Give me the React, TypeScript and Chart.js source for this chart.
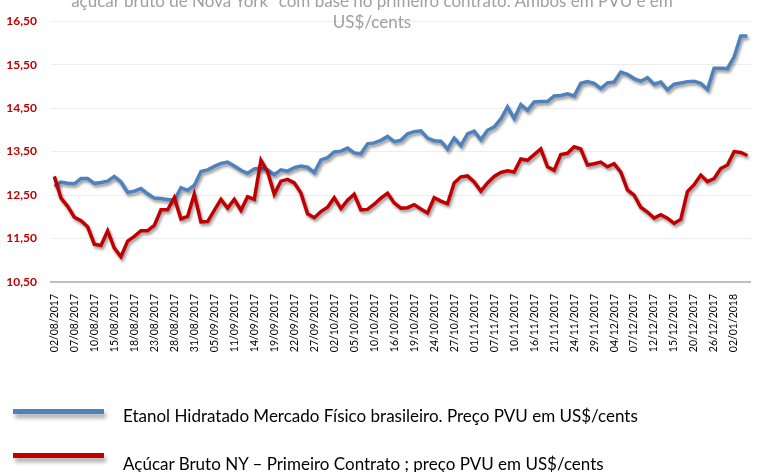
import React, { useEffect, useRef } from "react";
import { Chart, registerables } from "chart.js";

Chart.register(...registerables);

const dates: string[] = [
  "02/08/2017","03/08/2017","04/08/2017","07/08/2017","08/08/2017","09/08/2017","10/08/2017","11/08/2017","14/08/2017","15/08/2017",
  "16/08/2017","17/08/2017","18/08/2017","21/08/2017","22/08/2017","23/08/2017","24/08/2017","25/08/2017","28/08/2017","29/08/2017",
  "30/08/2017","31/08/2017",
  "01/09/2017","04/09/2017","05/09/2017","06/09/2017","08/09/2017","11/09/2017","12/09/2017","13/09/2017","14/09/2017","15/09/2017",
  "18/09/2017","19/09/2017","20/09/2017","21/09/2017","22/09/2017","25/09/2017","26/09/2017","27/09/2017","28/09/2017","29/09/2017",
  "02/10/2017","03/10/2017","04/10/2017","05/10/2017","06/10/2017","09/10/2017","10/10/2017","11/10/2017","13/10/2017","16/10/2017",
  "17/10/2017","18/10/2017","19/10/2017","20/10/2017","23/10/2017","24/10/2017","25/10/2017","26/10/2017","27/10/2017","30/10/2017",
  "31/10/2017",
  "01/11/2017","03/11/2017","06/11/2017","07/11/2017","08/11/2017","09/11/2017","10/11/2017","13/11/2017","14/11/2017","16/11/2017",
  "17/11/2017","20/11/2017","21/11/2017","22/11/2017","23/11/2017","24/11/2017","27/11/2017","28/11/2017","29/11/2017","30/11/2017",
  "01/12/2017","04/12/2017","05/12/2017","06/12/2017","07/12/2017","08/12/2017","11/12/2017","12/12/2017","13/12/2017","14/12/2017",
  "15/12/2017","18/12/2017","19/12/2017","20/12/2017","21/12/2017","22/12/2017","26/12/2017","27/12/2017","28/12/2017",
  "02/01/2018","03/01/2018","04/01/2018",
];

const etanol: number[] = [
  12.70, 12.80, 12.77, 12.76, 12.88, 12.88, 12.77, 12.79, 12.82, 12.93,
  12.80, 12.56, 12.59, 12.65, 12.53, 12.43, 12.42, 12.40, 12.38, 12.67,
  12.61, 12.72, 13.04, 13.08, 13.16, 13.23, 13.26, 13.17, 13.07, 13.00,
  13.10, 13.12, 13.08, 12.97, 13.08, 13.05, 13.13, 13.17, 13.14, 13.02,
  13.31, 13.36, 13.49, 13.51, 13.58, 13.47, 13.45, 13.68, 13.70, 13.76,
  13.85, 13.73, 13.76, 13.91, 13.96, 13.98, 13.81, 13.75, 13.74, 13.56,
  13.81, 13.64, 13.91, 13.97, 13.77, 13.99, 14.07, 14.25, 14.53, 14.26,
  14.58, 14.45, 14.64, 14.65, 14.65, 14.78, 14.79, 14.83, 14.78, 15.07,
  15.11, 15.07, 14.95, 15.08, 15.10, 15.33, 15.28, 15.18, 15.12, 15.20,
  15.05, 15.10, 14.92, 15.05, 15.08, 15.11, 15.12, 15.07, 14.93, 15.42,
  15.42, 15.41, 15.68, 16.16, 16.16,
];

const acucar: number[] = [
  12.93, 12.43, 12.24, 11.99, 11.91, 11.77, 11.37, 11.34, 11.68, 11.28,
  11.08, 11.44, 11.55, 11.68, 11.68, 11.80, 12.16, 12.16, 12.44, 11.95,
  12.01, 12.52, 11.88, 11.89, 12.15, 12.40, 12.20, 12.40, 12.15, 12.46,
  12.40, 13.30, 13.04, 12.52, 12.82, 12.86, 12.78, 12.55, 12.07, 11.98,
  12.12, 12.22, 12.44, 12.19, 12.38, 12.52, 12.16, 12.17, 12.29, 12.43,
  12.54, 12.32, 12.20, 12.21, 12.28, 12.18, 12.09, 12.44, 12.36, 12.30,
  12.78, 12.92, 12.94, 12.80, 12.59, 12.78, 12.93, 13.02, 13.06, 13.03,
  13.33, 13.30, 13.43, 13.56, 13.15, 13.07, 13.43, 13.46, 13.61, 13.56,
  13.19, 13.22, 13.26, 13.15, 13.22, 13.03, 12.62, 12.50, 12.22, 12.11,
  11.97, 12.05, 11.97, 11.85, 11.94, 12.58, 12.74, 12.96, 12.81, 12.88,
  13.11, 13.19, 13.50, 13.48, 13.41,
];

const yMin = 10.5;
const yMax = 16.5;
const yStep = 1;
const labelEvery = 3;

const titleLines = [
  "açúcar bruto de Nova York\" com base no primeiro contrato. Ambos em PVU e em",
  "US$/cents",
];
const legendLabels = [
  "Etanol Hidratado Mercado Físico brasileiro. Preço PVU em US$/cents",
  "Açúcar Bruto NY – Primeiro Contrato ; preço PVU em US$/cents",
];

const BLUE = "#4F81BD";
const RED = "#C00000";
const FONT = "Lato, 'Open Sans', sans-serif";

const shadowPlugin = {
  id: "lineShadow",
  beforeDatasetsDraw(chart: any) {
    const ctx = chart.ctx;
    ctx.save();
    ctx.shadowColor = "rgba(0,0,0,0.4)";
    ctx.shadowBlur = 3;
    ctx.shadowOffsetX = 1.5;
    ctx.shadowOffsetY = 2.5;
  },
  afterDatasetsDraw(chart: any) {
    chart.ctx.restore();
  },
};

export default function App() {
  const canvasRef = useRef<HTMLCanvasElement | null>(null);

  useEffect(() => {
    if (!canvasRef.current) return;
    const chart = new Chart(canvasRef.current, {
      type: "line",
      data: {
        labels: dates,
        datasets: [
          {
            label: legendLabels[0],
            data: etanol,
            borderColor: BLUE,
            backgroundColor: BLUE,
            borderWidth: 3.5,
            pointRadius: 0,
            tension: 0,
            order: 2,
          },
          {
            label: legendLabels[1],
            data: acucar,
            borderColor: RED,
            backgroundColor: RED,
            borderWidth: 3.5,
            pointRadius: 0,
            tension: 0,
            order: 1,
          },
        ],
      },
      options: {
        responsive: false,
        animation: false,
        layout: { padding: { top: 13, right: 1, bottom: 110, left: 0 } },
        plugins: {
          legend: { display: false },
          title: { display: false },
          tooltip: { enabled: false },
        },
        scales: {
          x: {
            type: "category",
            offset: true,
            grid: { display: false, drawTicks: false },
            border: { display: true, color: "#BFBFBF", width: 2 },
            ticks: {
              autoSkip: false,
              minRotation: 90,
              maxRotation: 90,
              padding: 12,
              color: "#000000",
              font: { family: FONT, size: 10.5 },
              callback: (_v: any, i: number) => (i % labelEvery === 0 ? dates[i] : ""),
            },
            afterFit: (scale: any) => {
              scale.height = 80;
            },
          },
          y: {
            min: yMin,
            max: yMax,
            grid: { color: "#EDEDED", lineWidth: 1, drawTicks: false },
            border: { display: false },
            ticks: {
              stepSize: yStep,
              padding: 14,
              color: RED,
              font: { family: FONT, size: 12, weight: "bold" },
              callback: (v: any) => Number(v).toFixed(2).replace(".", ","),
            },
            afterFit: (scale: any) => {
              scale.width = 51;
            },
          },
        },
      },
      plugins: [shadowPlugin],
    });
    return () => chart.destroy();
  }, []);

  const textBase: React.CSSProperties = {
    position: "absolute",
    whiteSpace: "nowrap",
    fontFamily: FONT,
    fontSize: "17px",
    lineHeight: "17px",
  };

  return (
    <div
      style={{
        position: "fixed",
        left: 0,
        top: 0,
        width: 768,
        height: 472,
        overflow: "hidden",
        background: "#ffffff",
      }}
    >
      <canvas ref={canvasRef} width={772} height={472} style={{ display: "block" }} />
      <div style={{ ...textBase, left: 0, width: 744, top: -8, textAlign: "center", color: "#A0A0A0" }}>
        {titleLines[0]}
      </div>
      <div style={{ ...textBase, left: 0, width: 744, top: 13, textAlign: "center", color: "#A0A0A0" }}>
        {titleLines[1]}
      </div>
      <div
        style={{
          position: "absolute",
          left: 13,
          top: 409,
          width: 91,
          height: 5,
          background: BLUE,
          boxShadow: "2px 4px 4px rgba(0,0,0,0.35)",
        }}
      />
      <div style={{ ...textBase, left: 123, top: 407, color: "#000000" }}>{legendLabels[0]}</div>
      <div
        style={{
          position: "absolute",
          left: 13,
          top: 453,
          width: 91,
          height: 5,
          background: RED,
          boxShadow: "2px 4px 4px rgba(0,0,0,0.35)",
        }}
      />
      <div style={{ ...textBase, left: 123, top: 455, color: "#000000" }}>{legendLabels[1]}</div>
    </div>
  );
}
